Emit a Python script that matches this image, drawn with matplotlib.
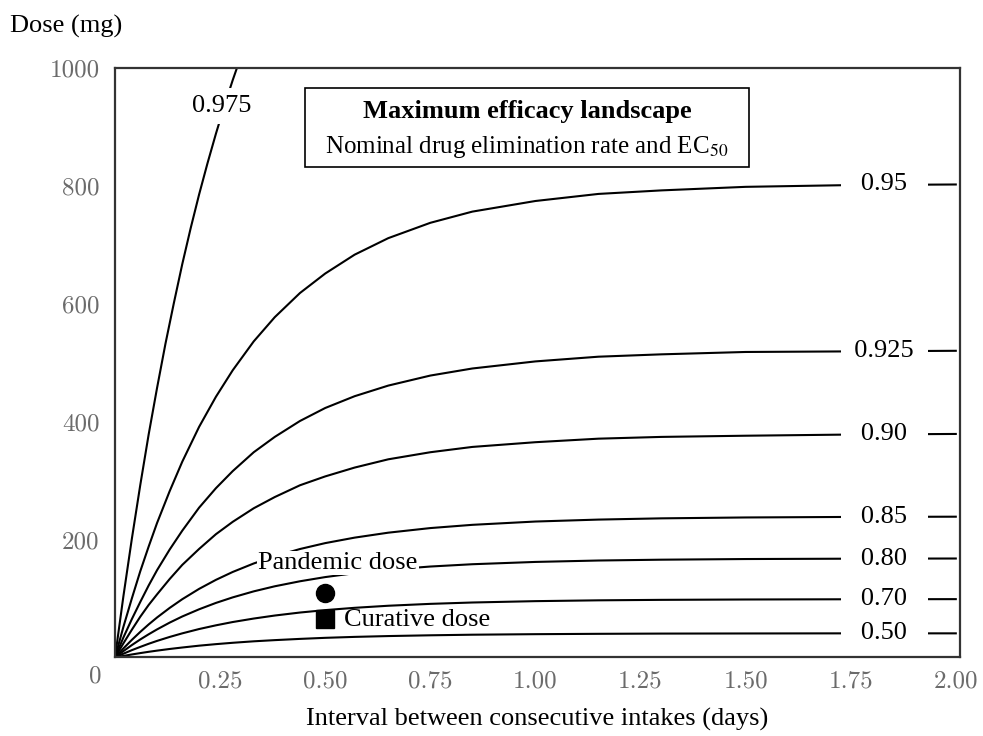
import matplotlib
matplotlib.use('Agg')
import matplotlib.pyplot as plt
from matplotlib.patches import Rectangle

plt.rcParams['font.family'] = 'Liberation Serif'
plt.rcParams['mathtext.fontset'] = 'stix'

# interval between intakes (days)
interval = [0, 0.02, 0.04, 0.06, 0.08, 0.10, 0.13, 0.16, 0.20, 0.24, 0.28, 0.33, 0.38,
            0.44, 0.50, 0.57, 0.65, 0.75, 0.85, 1.0, 1.15, 1.3, 1.5, 1.75, 2.0]
interval_975 = [0, 0.02, 0.04, 0.06, 0.08, 0.10, 0.12, 0.14, 0.16, 0.18, 0.20,
                0.22, 0.24, 0.26, 0.28, 0.30]

# dose (mg) along each efficacy contour
dose_975 = [0, 104, 201, 292, 378, 457, 532, 601, 667, 728, 785, 838, 888, 935, 979, 1020]
dose_950 = [0, 52, 100, 146, 188, 228, 282, 332, 391, 442, 487, 536, 577, 618, 651, 683,
            711, 737, 756, 774, 786, 792, 798, 801, 802]
dose_925 = [0, 34, 65, 94, 122, 148, 183, 215, 254, 287, 316, 348, 374, 401, 423, 443,
            461, 478, 490, 502, 510, 514, 518, 519, 520]
dose_900 = [0, 24, 47, 69, 89, 107, 133, 157, 184, 209, 230, 253, 272, 292, 307, 322,
            336, 348, 357, 365, 371, 374, 376, 378, 379]
dose_850 = [0, 15.4, 29.8, 43.3, 56.0, 67.8, 84.0, 98.8, 116.3, 131.6, 145.0, 159.4, 171.6,
            183.9, 193.9, 203.2, 211.6, 219.4, 224.9, 230.5, 233.8, 235.9, 237.4, 238.3, 238.7]
dose_800 = [0, 10.8, 21.0, 30.5, 39.3, 47.6, 59.1, 69.5, 81.7, 92.5, 101.9, 112.1, 120.7,
            129.2, 136.3, 142.9, 148.7, 154.2, 158.1, 162.0, 164.4, 165.8, 166.9, 167.5, 167.8]
dose_700 = [0, 6.4, 12.4, 17.9, 23.2, 28.1, 34.8, 40.9, 48.2, 54.5, 60.1, 66.0, 71.1,
            76.2, 80.3, 84.2, 87.7, 90.9, 93.2, 95.5, 96.9, 97.7, 98.3, 98.7, 98.9]
dose_500 = [0, 2.6, 5.1, 7.4, 9.6, 11.6, 14.4, 16.9, 20.0, 22.6, 24.9, 27.4, 29.4,
            31.5, 33.3, 34.9, 36.3, 37.6, 38.6, 39.5, 40.1, 40.5, 40.7, 40.9, 40.9]

right_labels = ['0.95', '0.925', '0.90', '0.85', '0.80', '0.70', '0.50']

pandemic = (0.5, 110)
curative = (0.5, 65)

fig = plt.figure(figsize=(9.83, 7.36), dpi=100)
ax = fig.add_axes([0.117, 0.1067, 0.8596, 0.8013])

ax.plot(interval_975, dose_975, color='black', lw=1.5)
curves = [dose_950, dose_925, dose_900, dose_850, dose_800, dose_700, dose_500]
for d in curves:
    ax.plot(interval, d, color='black', lw=1.5)

# inline contour labels on the right
for lab, d in zip(right_labels, curves):
    pad = '  ' if len(lab) > 4 else '   '
    ax.text(1.83, d[-1], pad + lab + pad, ha='center', va='center', fontsize=19,
            bbox=dict(facecolor='white', edgecolor='none', pad=0.5), zorder=4)

ax.text(0.2527, 935, '0.975', ha='center', va='center', fontsize=19,
        bbox=dict(facecolor='white', edgecolor='none', pad=5), zorder=4)

# dose markers
ax.plot(pandemic[0], pandemic[1], 'o', color='black', ms=13, zorder=5)
ax.plot(curative[0], curative[1], 's', color='black', ms=12.5, zorder=5)
ax.text(0.53, 150, 'Pandemic dose', ha='center', va='baseline', fontsize=19,
        bbox=dict(facecolor='white', edgecolor='none', pad=1), zorder=4)
ax.text(0.545, 64, 'Curative dose', ha='left', va='center', fontsize=19, zorder=4)

# title box
ax.add_patch(Rectangle((0.452, 831.5), 1.056, 134, fill=False, edgecolor='black', lw=1.2, zorder=4))
ax.text(0.98, 926, 'Maximum efficacy landscape', ha='center', va='center',
        fontsize=19, fontweight='bold', zorder=5)
ax.text(0.98, 866, r'Nominal drug elimination rate and EC$_{\mathrm{50}}$', ha='center', va='center',
        fontsize=18, zorder=5)

ax.set_xlim(0, 2.01)
ax.set_ylim(0, 1000)

xt = [0.25, 0.5, 0.75, 1.0, 1.25, 1.5, 1.75, 2.0]
ax.set_xticks(xt)
ax.set_xticklabels(['%.2f' % v for v in xt], fontfamily='cmr10', fontsize=18, color='#6b6b6b')
yt = [200, 400, 600, 800, 1000]
ax.set_yticks(yt)
ax.set_yticklabels([str(v) for v in yt], fontfamily='cmr10', fontsize=18, color='#6b6b6b')
ax.tick_params(length=0)
ax.tick_params(axis='x', pad=9)
ax.tick_params(axis='y', pad=11)
ax.text(-0.0237, -0.032, '0', transform=ax.transAxes, ha='center', va='center',
        fontfamily='cmr10', fontsize=18, color='#6b6b6b')

for s in ax.spines.values():
    s.set_color('#333333')
    s.set_linewidth(1.6)

ax.set_xlabel('Interval between consecutive intakes (days)', fontsize=19)
ax.xaxis.set_label_coords(0.5, -0.085)
fig.text(10 / 983, 1 - 26 / 736, 'Dose (mg)', ha='left', va='center', fontsize=19)

fig.savefig('out.png', dpi=100)
